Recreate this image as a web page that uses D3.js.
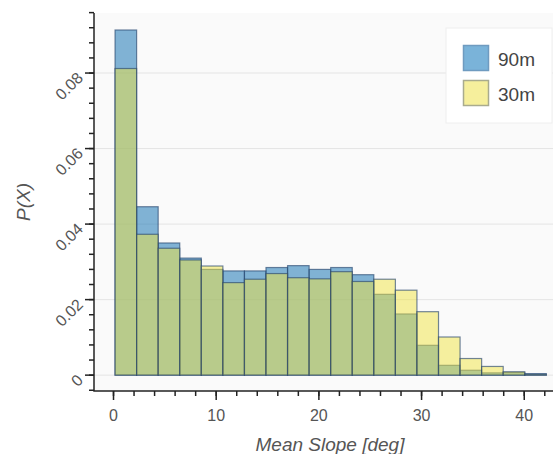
<!DOCTYPE html>
<html>
<head>
<meta charset="utf-8">
<title>Slope histogram</title>
<script src="https://d3js.org/d3.v7.min.js"></script>
<style>
  body { margin: 0; background: #fff; }
  text { font-family: "Liberation Sans", Arial, sans-serif; }
</style>
</head>
<body>
<svg id="chart" width="553" height="454"></svg>
<script>
// bin edges (deg) and probabilities
const binEdges = [0.15, 2.25, 4.35, 6.45, 8.55, 10.65, 12.75, 14.85, 16.95, 19.05, 21.15,
                  23.25, 25.35, 27.45, 29.55, 31.65, 33.75, 35.85, 37.95, 40.05, 42.15];
const p90 = [0.0914, 0.0446, 0.0350, 0.0310, 0.0280, 0.0276, 0.0276, 0.0285, 0.0290, 0.0280,
             0.0285, 0.0266, 0.0214, 0.0162, 0.0079, 0.0026, 0.0013, 0.0006, 0.0007, 0.0004];
const p30 = [0.0812, 0.0373, 0.0336, 0.0305, 0.0289, 0.0245, 0.0254, 0.0269, 0.0258, 0.0255,
             0.0274, 0.0248, 0.0254, 0.0225, 0.0168, 0.0101, 0.0044, 0.0023, 0.0009, 0.0002];
const seriesNames = ["90m", "30m"];
const xTicks = [0, 10, 20, 30, 40];
const yTicks = [0, 0.02, 0.04, 0.06, 0.08];
const yTickLabels = ["0", "0.02", "0.04", "0.06", "0.08"];

const svg = d3.select("#chart");
const mLeft = 94, mTop = 13, mRight = 553, mBottom = 391;

const x = d3.scaleLinear().domain([-1.9, 42.8]).range([mLeft, mRight]);
const y = d3.scaleLinear().domain([-0.0042, 0.0959]).range([mBottom, mTop]);

const colors = { "90m": "rgba(40,125,185,0.58)", "30m": "rgba(240,228,66,0.5)" };
const swatch = { "90m": "#7ab3d9", "30m": "#f6ef9c" };

// plot background
svg.append("rect").attr("x", mLeft).attr("y", mTop)
  .attr("width", mRight - mLeft).attr("height", mBottom - mTop).attr("fill", "#fafafa");

// grid lines
svg.append("g").selectAll("line").data(yTicks).join("line")
  .attr("x1", mLeft).attr("x2", mRight)
  .attr("y1", d => y(d)).attr("y2", d => y(d))
  .attr("stroke", "#e4e4e4").attr("stroke-width", 1);

// bars
const bins90 = p90.map((v, i) => ({ x0: binEdges[i], x1: binEdges[i + 1], v }));
const bins30 = p30.map((v, i) => ({ x0: binEdges[i], x1: binEdges[i + 1], v }));

function drawBars(data, name) {
  svg.append("g").selectAll("rect").data(data).join("rect")
    .attr("x", d => x(d.x0))
    .attr("width", d => x(d.x1) - x(d.x0))
    .attr("y", d => y(d.v))
    .attr("height", d => y(0) - y(d.v))
    .attr("fill", colors[name])
    .attr("stroke", "rgba(40,70,110,0.65)")
    .attr("stroke-width", 1.2);
}
drawBars(bins90, "90m");
drawBars(bins30, "30m");

// legend
const lg = svg.append("g");
lg.append("rect").attr("x", 446).attr("y", 28).attr("width", 106).attr("height", 95)
  .attr("fill", "#fff").attr("stroke", "#eeeeee");
seriesNames.forEach((n, i) => {
  lg.append("rect").attr("x", 463.5).attr("y", 45.5 + i * 35).attr("width", 25).attr("height", 25)
    .attr("fill", swatch[n]).attr("stroke", i == 0 ? "#6f9bc0" : "#a9ab8e").attr("stroke-width", 1.5);
  lg.append("text").attr("x", 498).attr("y", 65.5 + i * 35).text(n)
    .attr("font-size", 19).attr("fill", "#444");
});

// spines
svg.append("line").attr("x1", mLeft).attr("x2", mLeft).attr("y1", mTop).attr("y2", mBottom)
  .attr("stroke", "#222").attr("stroke-width", 1.5);
svg.append("line").attr("x1", mLeft - 0.75).attr("x2", mRight).attr("y1", mBottom).attr("y2", mBottom)
  .attr("stroke", "#222").attr("stroke-width", 1.5);

// y ticks
const yMinor = d3.range(-0.004, 0.0961, 0.004);
svg.append("g").selectAll("line").data(yMinor).join("line")
  .attr("x1", mLeft - 5).attr("x2", mLeft)
  .attr("y1", d => y(d)).attr("y2", d => y(d))
  .attr("stroke", "#222").attr("stroke-width", 1.5);
svg.append("g").selectAll("line").data(yTicks).join("line")
  .attr("x1", mLeft - 9).attr("x2", mLeft)
  .attr("y1", d => y(d)).attr("y2", d => y(d))
  .attr("stroke", "#222").attr("stroke-width", 1.5);
svg.append("g").selectAll("text").data(yTicks).join("text")
  .attr("transform", d => `translate(${mLeft - 13},${y(d) + 3}) rotate(-45)`)
  .attr("text-anchor", "end").attr("dominant-baseline", "middle")
  .attr("font-size", 16).attr("fill", "#555")
  .text((d, i) => yTickLabels[i]);

// x ticks
const xMinor = d3.range(0, 43, 2);
svg.append("g").selectAll("line").data(xMinor).join("line")
  .attr("x1", d => x(d)).attr("x2", d => x(d))
  .attr("y1", mBottom).attr("y2", mBottom + 5)
  .attr("stroke", "#222").attr("stroke-width", 1.5);
svg.append("g").selectAll("line").data(xTicks).join("line")
  .attr("x1", d => x(d)).attr("x2", d => x(d))
  .attr("y1", mBottom).attr("y2", mBottom + 9)
  .attr("stroke", "#222").attr("stroke-width", 1.5);
svg.append("g").selectAll("text").data(xTicks).join("text")
  .attr("x", d => x(d)).attr("y", 421)
  .attr("text-anchor", "middle").attr("font-size", 16).attr("fill", "#555")
  .text(d => d);

// axis titles
svg.append("text").attr("x", 330).attr("y", 451).attr("text-anchor", "middle")
  .attr("font-size", 19).attr("font-style", "italic").attr("fill", "#555")
  .text("Mean Slope [deg]");
svg.append("text").attr("transform", `translate(30,202) rotate(-90)`).attr("text-anchor", "middle")
  .attr("font-size", 19).attr("font-style", "italic").attr("fill", "#555")
  .text("P(X)");
</script>
</body>
</html>
